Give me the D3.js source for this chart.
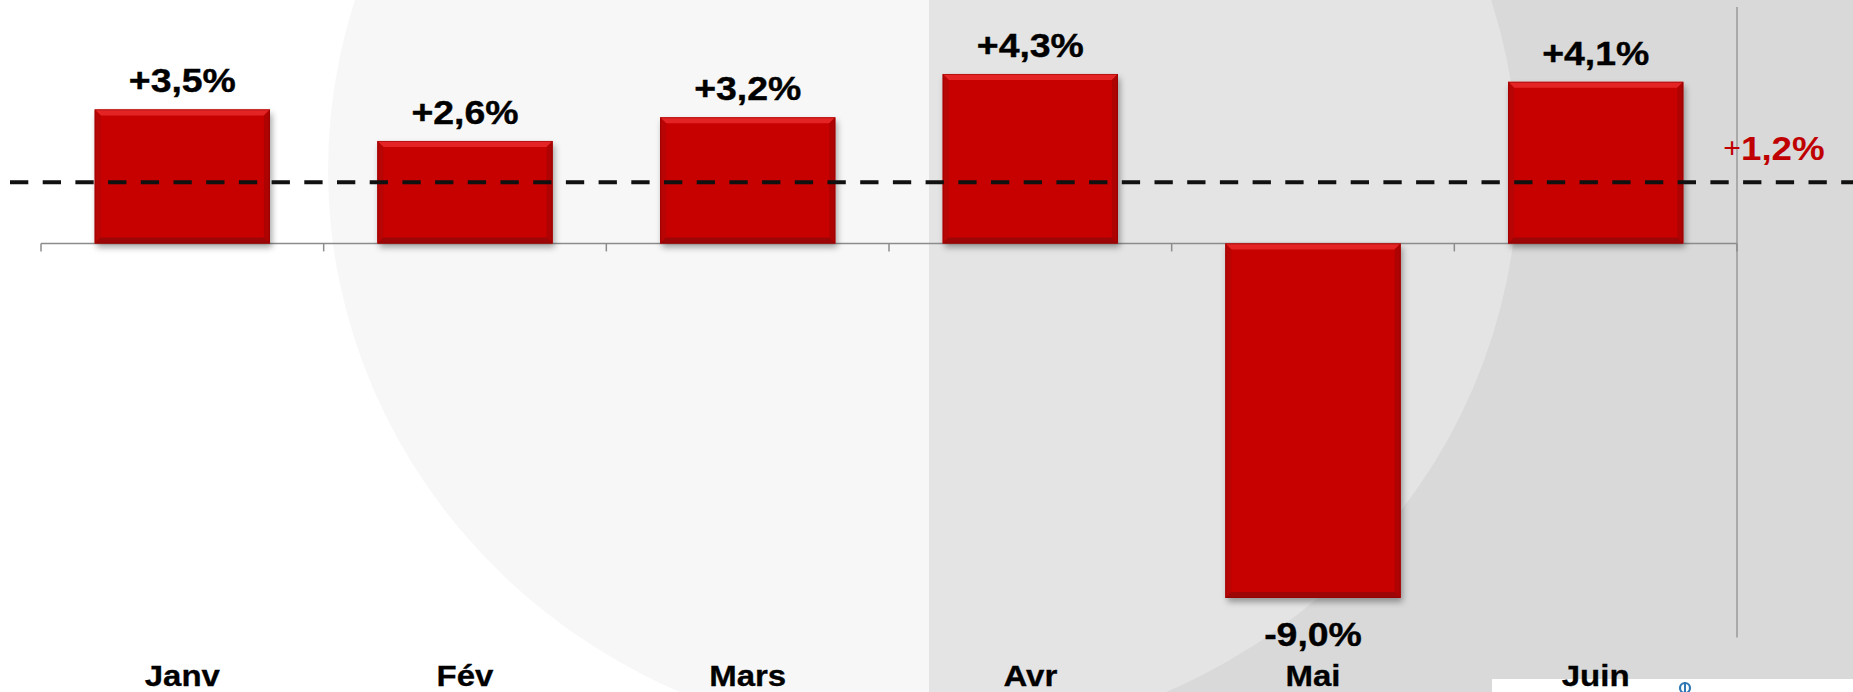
<!DOCTYPE html>
<html><head><meta charset="utf-8">
<script src="https://cdn.jsdelivr.net/npm/d3@7"></script>
<style>html,body{margin:0;padding:0;background:#fff;overflow:hidden}svg{display:block}</style>
</head><body>
<svg id="c" width="1853" height="692"></svg>
<script>
const categories = ["Janv","Fév","Mars","Avr","Mai","Juin"];
const values = [3.4, 2.6, 3.2, 4.3, -9.0, 4.1];
const valueLabels = ["+3,5%","+2,6%","+3,2%","+4,3%","-9,0%","+4,1%"];
const averageValue = 1.55;
const averageLabelSign = "+";
const averageLabelText = "1,2%";

const W = 1853, H = 692;
const svg = d3.select("#c");
const defs = svg.append("defs");
const f = defs.append("filter").attr("id","sh").attr("x","-10%").attr("y","-10%").attr("width","130%").attr("height","130%");
f.append("feDropShadow").attr("dx",2).attr("dy",4).attr("stdDeviation",3).attr("flood-color","#000").attr("flood-opacity",0.35);
defs.append("clipPath").attr("id","cl").append("rect").attr("x",0).attr("y",0).attr("width",929).attr("height",H);
defs.append("clipPath").attr("id","cr").append("rect").attr("x",929).attr("y",0).attr("width",W-929).attr("height",H);

// background
svg.append("rect").attr("width",W).attr("height",H).attr("fill","#ffffff");
svg.append("rect").attr("x",929).attr("y",0).attr("width",W-929).attr("height",H).attr("fill","#d9d9d9");
svg.append("ellipse").attr("cx",923).attr("cy",170).attr("rx",595).attr("ry",572).attr("fill","#f7f7f7").attr("clip-path","url(#cl)");
svg.append("ellipse").attr("cx",923).attr("cy",170).attr("rx",595).attr("ry",572).attr("fill","#e4e4e4").attr("clip-path","url(#cr)");
svg.append("rect").attr("x",1492).attr("y",679).attr("width",W-1492).attr("height",H-679).attr("fill","#ffffff");
// small logo glyph
svg.append("ellipse").attr("cx",1685).attr("cy",688).attr("rx",5).attr("ry",5).attr("fill","none").attr("stroke","#2f77b5").attr("stroke-width",2.2);
svg.append("line").attr("x1",1685).attr("x2",1685).attr("y1",682).attr("y2",692).attr("stroke","#2f77b5").attr("stroke-width",2);

const x = d3.scaleBand().domain(categories).range([41,1737]).paddingInner(0.38).paddingOuter(0.19);
const y = d3.scaleLinear().domain([-10,6]).range([637.4,7]);

// vertical axis line at right end
svg.append("line").attr("x1",1737).attr("x2",1737).attr("y1",y(6)).attr("y2",y(-10)).attr("stroke","#999").attr("stroke-width",1.5);

// category axis
const y0 = y(0);
const bounds = d3.range(categories.length+1).map(i => x.range()[0] + i*x.step());
svg.append("line").attr("x1",bounds[0]).attr("x2",bounds[bounds.length-1]).attr("y1",y0).attr("y2",y0).attr("stroke","#8c8c8c").attr("stroke-width",1.5);
svg.selectAll(".tk").data(bounds).enter().append("line").attr("x1",d=>d).attr("x2",d=>d).attr("y1",y0).attr("y2",y0+8).attr("stroke","#8c8c8c").attr("stroke-width",1.5);

// bars
const bw = x.bandwidth();
const bars = svg.selectAll(".bar").data(values).enter().append("g");
bars.each(function(v,i){
  const g = d3.select(this);
  const x0 = x(categories[i]), x1 = x0 + bw;
  const top = Math.min(y(v), y0), bot = Math.max(y(v), y0);
  const b = 6;
  g.append("rect").attr("x",x0).attr("y",top).attr("width",bw).attr("height",bot-top).attr("fill","#c70505").attr("filter","url(#sh)");
  const poly = (pts,fill)=>g.append("polygon").attr("points",pts.map(p=>p.join(",")).join(" ")).attr("fill",fill);
  poly([[x0,top],[x1,top],[x1-b,top+b],[x0+b,top+b]],"#e42424");
  poly([[x0,top],[x0+b,top+b],[x0+b,bot-b],[x0,bot]],"#b70404");
  poly([[x1,top],[x1,bot],[x1-b,bot-b],[x1-b,top+b]],"#ad0303");
  poly([[x0,bot],[x0+b,bot-b],[x1-b,bot-b],[x1,bot]],"#9c0606");
  g.append("rect").attr("x",x0+0.5).attr("y",top+0.5).attr("width",bw-1).attr("height",bot-top-1).attr("fill","none").attr("stroke","#8a0000").attr("stroke-width",1).attr("stroke-opacity",0.5);
});

// average dashed line
svg.append("line").attr("x1",10).attr("x2",W).attr("y1",y(averageValue)).attr("y2",y(averageValue))
  .attr("stroke","#111").attr("stroke-width",4).attr("stroke-dasharray","18.3,14.4");

// value labels
svg.selectAll(".vl").data(values).enter().append("text")
  .attr("transform",(v,i)=>`translate(${x(categories[i])+bw/2},${v>=0 ? y(v)-17 : y(v)+48}) scale(1.1,1)`)
  .attr("text-anchor","middle").attr("font-family","Liberation Sans, Arial, sans-serif").attr("font-weight","bold")
  .attr("font-size",34).attr("fill","#000").attr("stroke","#000").attr("stroke-width",0.4).text((v,i)=>valueLabels[i]);

// category labels
svg.selectAll(".cl").data(categories).enter().append("text")
  .attr("transform",d=>`translate(${x(d)+bw/2},686) scale(1.1,1)`)
  .attr("text-anchor","middle").attr("font-family","Liberation Sans, Arial, sans-serif").attr("font-weight","bold")
  .attr("font-size",30).attr("fill","#000").attr("stroke","#000").attr("stroke-width",0.3).text(d=>d);

// average label
const al = svg.append("text").attr("transform",`translate(1774,${y(averageValue)-22}) scale(1.08,1)`)
  .attr("text-anchor","middle").attr("font-family","Liberation Sans, Arial, sans-serif").attr("fill","#c00000");
al.append("tspan").attr("font-size",28).attr("font-weight","normal").attr("dy",-3).text(averageLabelSign);
al.append("tspan").attr("font-size",34).attr("font-weight","bold").attr("dy",3).text(averageLabelText);
</script>
</body></html>
